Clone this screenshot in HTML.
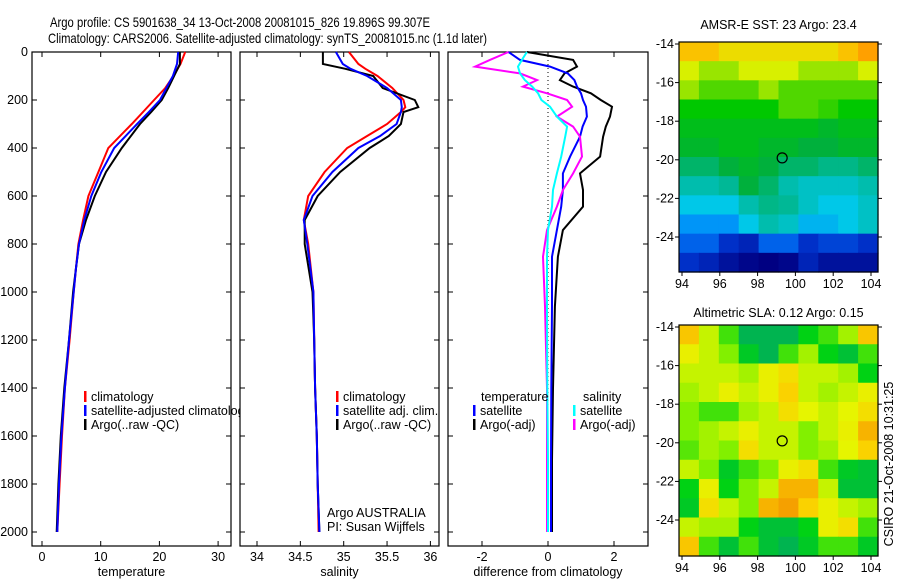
<!DOCTYPE html>
<html><head><meta charset="utf-8"><style>
body{margin:0;background:#fff;}
svg{display:block;font-family:"Liberation Sans",sans-serif;}
text{font-size:12.5px;fill:#000;}
</style></head><body>
<svg id="fig" width="900" height="580" viewBox="0 0 900 580" xmlns="http://www.w3.org/2000/svg">
<rect width="900" height="580" fill="#fff"/>
<text x="50" y="27" textLength="380" lengthAdjust="spacingAndGlyphs" style="font-size:14px">Argo profile: CS 5901638_34 13-Oct-2008 20081015_826 19.896S 99.307E</text>
<text x="48" y="43" textLength="439" lengthAdjust="spacingAndGlyphs" style="font-size:14px">Climatology: CARS2006. Satellite-adjusted climatology: synTS_20081015.nc (1.1d later)</text>
<g id="layer"></g>
</svg>
<script>
// ---------- data ----------
const tDepths=[0,50,100,150,200,250,300,400,500,600,700,800,900,1000,1200,1400,1600,1800,2000];
const tClim=[24.4,23.6,22.4,21,19.1,17.2,15.3,11.3,9.6,7.9,7.0,6.2,5.8,5.4,4.7,3.9,3.4,3.0,2.6];
const tSat=[23.2,23.0,22.3,21.2,20.1,18.2,16.2,12.3,10.1,8.4,7.2,6.3,5.8,5.4,4.6,3.9,3.3,2.9,2.6];
const tArgo=[23.5,23.5,22.5,21.5,20.4,18.6,16.7,13.6,10.9,9.0,7.5,6.3,5.8,5.3,4.6,3.8,3.2,2.8,2.5];
const sDepths=[0,50,70,100,150,200,230,250,300,350,400,500,600,700,800,1000,1200,1400,1600,1800,2000];
const sClim=[35.06,35.17,35.25,35.39,35.56,35.69,35.71,35.66,35.50,35.27,35.04,34.78,34.59,34.54,34.59,34.65,34.66,34.67,34.69,34.70,34.71];
const sSat=[34.91,34.99,35.08,35.27,35.50,35.66,35.67,35.66,35.61,35.42,35.17,34.87,34.64,34.54,34.58,34.65,34.66,34.67,34.69,34.70,34.72];
const sArgo=[34.76,34.76,35.02,35.34,35.45,35.82,35.86,35.69,35.66,35.52,35.30,34.96,34.70,34.55,34.55,34.64,34.66,34.67,34.69,34.70,34.72];
const dDepths=[0,33,61,89,117,144,172,200,228,269,311,353,436,506,575,644,742,853,1061,1400,1700,2000];
const dTempArgo=[-0.64,0.76,0.88,0.5,0.36,0.76,1.3,1.6,1.94,1.88,1.75,1.67,1.58,0.97,1.06,1.06,0.45,0.3,0.21,0.15,0.12,0.12];
const dTempSat=[-1.2,-0.85,0.06,0.6,0.8,0.88,1.0,1.06,1.15,1.18,1.05,0.97,0.67,0.45,0.45,0.4,0.27,0.12,0.12,0.1,0.09,0.09];
const dSalSat=[-0.64,-0.79,-0.91,-0.85,-0.7,-0.48,-0.3,-0.2,0.06,0.27,0.58,0.52,0.4,0.27,0.15,0.12,0,-0.03,-0.03,-0.02,0,0];
const dSalArgo=[-1.2,-1.76,-2.21,-0.85,-0.33,-0.76,-0.03,0.58,0.73,0.27,0.76,0.97,1.03,0.76,0.45,0.27,-0.03,-0.15,-0.09,-0.03,-0.03,-0.03];
const depthTicks=[0,200,400,600,800,1000,1200,1400,1600,1800,2000];
const tTicks=[0,10,20,30];
const sTicks=[34,34.5,35,35.5,36];
const dTicks=[-2,0,2];
const latTicks=[-14,-16,-18,-20,-22,-24];
const lonTicks=[94,96,98,100,102,104];
const sstGrid=[
[27,27,26.5,26.5,26.5,26.5,26.5,26.5,27,27.5],
[26,25.5,25.5,26,26,26,25.5,25.5,25.5,26],
[25.5,25,25,25,25.5,25,25,25,25,25],
[24.5,24.5,24.5,24.5,24.5,25,25,24.8,24.5,24.5],
[24.2,24.2,24.2,24.2,24.2,24.2,24.2,24,24.2,24.2],
[24,24,24.2,24.2,24,24,23.8,23.8,24,24],
[23.5,23.5,23.8,24,23.8,23.5,23.5,23.3,23.3,23.5],
[23,23,23.2,23.8,23.5,23,22.8,22.8,22.8,23],
[22.5,22.5,22.5,23,23.3,23.2,22.8,22.5,22.5,22.8],
[22,22,22,22.5,23,22.8,22.3,22.3,22.5,22.8],
[21.5,21.5,21,20.8,21.5,21.5,21,21.2,21.2,21],
[21,20.8,20.5,20.3,20.2,20.3,20.8,20.5,20.5,20.5]];
const slaGrid=[
[0.22,0.12,0.05,-0.05,-0.05,-0.05,0.02,0.05,0.1,0.22],
[0.15,0.12,0.08,0.0,-0.05,0.05,0.1,0.02,-0.02,0.05],
[0.12,0.12,0.12,0.1,0.15,0.18,0.12,0.12,0.1,0.02],
[0.1,0.12,0.15,0.12,0.15,0.2,0.12,0.1,0.12,0.15],
[0.08,0.05,0.05,0.1,0.12,0.18,0.14,0.12,0.14,0.18],
[0.08,0.1,0.12,0.15,0.12,0.12,0.08,0.12,0.15,0.25],
[0.06,0.1,0.08,0.18,0.12,0.12,0.08,0.1,0.14,0.2],
[0.12,0.08,0.0,0.05,0.08,0.15,0.18,0.05,0.0,-0.02],
[0.02,0.15,0.02,0.08,0.12,0.25,0.25,0.12,-0.02,-0.02],
[0.0,0.18,0.12,0.08,0.25,0.28,0.2,0.15,0.12,0.1],
[0.12,0.1,0.1,0.02,-0.02,-0.02,0.02,0.15,0.18,0.05],
[0.22,0.05,-0.02,0.05,-0.02,-0.05,0.0,0.05,0.05,0.0]];
const argoLon=99.3, argoLat=-19.9;

// ---------- helpers ----------
const NS='http://www.w3.org/2000/svg';
const layer=document.getElementById('layer');
function mk(tag,attrs,parent){const e=document.createElementNS(NS,tag);for(const k in attrs)e.setAttribute(k,attrs[k]);(parent||layer).appendChild(e);return e;}
const yD=d=>52+0.24*d;
const xT=v=>42+5.87*v;
const xS=v=>257+86.7*(v-34);
const xDf=v=>548+33*v;
const PB=546;

function panel(name,x0,x1,xf,ticks,title){
  const g=mk('g',{});
  
  
  const r=mk('rect',{x:x0,y:52,width:x1-x0,height:PB-52,fill:'#fff',stroke:'#000','stroke-width':1.2},g);
  
  
  ticks.forEach(t=>{const x=xf(t);
    mk('line',{x1:x,x2:x,y1:PB,y2:PB-5,stroke:'#000'},g);
    mk('line',{x1:x,x2:x,y1:52,y2:57,stroke:'#000'},g);
    const tx=mk('text',{x:x,y:561,'text-anchor':'middle'},g);tx.textContent=t;
    
    
  });
  depthTicks.forEach(d=>{const y=yD(d);
    mk('line',{x1:x0,x2:x0+5,y1:y,y2:y,stroke:'#000'},g);
    mk('line',{x1:x1,x2:x1-5,y1:y,y2:y,stroke:'#000'},g);});
  const tt=mk('text',{x:(x0+x1)/2,y:576,'text-anchor':'middle'},g);tt.textContent=title;
  
  
  return g;
}
function line(g,depths,vals,xf,color,name,w){
  const pts=vals.map((v,i)=>xf(v).toFixed(1)+','+yD(depths[i]).toFixed(1)).join(' ');
  const p=mk('polyline',{points:pts,fill:'none',stroke:color,'stroke-width':w||2},g);
  
  
}
function legend(g,x,y,color,label,name){
  if(color){const m=mk('rect',{x:x,y:y-10,width:2.5,height:11,fill:color},g);
    
    }
  const t=mk('text',{x:x+7,y:y},g);t.textContent=label;
  
  
}

// ---------- panel 1: temperature ----------
const p1=panel('temperature-panel',32,231,xT,tTicks,'temperature');
depthTicks.forEach(d=>{const t=mk('text',{x:28,y:yD(d)+4,'text-anchor':'end'});t.textContent=d;
  
  });
line(p1,tDepths,tClim,xT,'#f00','temp-climatology-line');
line(p1,tDepths,tArgo,xT,'#000','temp-argo-line');
line(p1,tDepths,tSat,xT,'#00f','temp-satellite-line');
legend(p1,84,401,'#f00','climatology','legend-climatology');
legend(p1,84,415,'#00f','satellite-adjusted climatology','legend-satellite-adjusted');
legend(p1,84,429,'#000','Argo(..raw -QC)','legend-argo');

// ---------- panel 2: salinity ----------
const p2=panel('salinity-panel',240,439,xS,sTicks,'salinity');
line(p2,sDepths,sClim,xS,'#f00','sal-climatology-line');
line(p2,sDepths,sArgo,xS,'#000','sal-argo-line');
line(p2,sDepths,sSat,xS,'#00f','sal-satellite-line');
legend(p2,336,401,'#f00','climatology','legend2-climatology');
legend(p2,336,415,'#00f','satellite adj. clim.','legend2-satellite');
legend(p2,336,429,'#000','Argo(..raw -QC)','legend2-argo');
legend(p2,320,517,null,'Argo AUSTRALIA','float-owner-label');
legend(p2,320,531,null,'PI: Susan Wijffels','pi-label');

// ---------- panel 3: differences ----------
const p3=panel('difference-panel',448,648,xDf,dTicks,'difference from climatology');
mk('line',{x1:xDf(0),x2:xDf(0),y1:yD(0),y2:yD(2000),stroke:'#000','stroke-dasharray':'1,3'},p3);
line(p3,dDepths,dTempArgo,xDf,'#000','diff-temp-argo-line');
line(p3,dDepths,dTempSat,xDf,'#00f','diff-temp-satellite-line');
line(p3,dDepths,dSalArgo,xDf,'#f0f','diff-sal-argo-line');
line(p3,dDepths,dSalSat,xDf,'#0ff','diff-sal-satellite-line');
legend(p3,474,401,null,'temperature','legend3-temperature-header');
legend(p3,473,415,'#00f','satellite','legend3-temp-satellite');
legend(p3,473,429,'#000','Argo(-adj)','legend3-temp-argo');
legend(p3,576,401,null,'salinity','legend3-salinity-header');
legend(p3,573,415,'#0ff','satellite','legend3-sal-satellite');
legend(p3,573,429,'#f0f','Argo(-adj)','legend3-sal-argo');

// ---------- maps ----------
function lerpColor(stops,v){
  if(v<=stops[0][0])return stops[0][1];
  for(let i=1;i<stops.length;i++){if(v<=stops[i][0]){const a=stops[i-1],b=stops[i],f=(v-a[0])/(b[0]-a[0]);
    const c=a[1].map((x,k)=>Math.round(x+(b[1][k]-x)*f));return c;}}
  return stops[stops.length-1][1];
}
const sstStops=[[20.2,[0,0,130]],[21,[0,48,200]],[21.8,[0,128,255]],[22.5,[0,200,232]],[23.2,[0,184,150]],[23.8,[0,176,60]],[24.5,[0,200,0]],[25.3,[128,224,0]],[26,[216,240,0]],[26.8,[248,208,0]],[27.5,[255,160,0]]];
const slaStops=[[-0.05,[0,180,80]],[0.02,[0,210,20]],[0.08,[130,240,0]],[0.14,[230,245,0]],[0.2,[250,210,0]],[0.28,[245,160,0]]];
function map(name,y0,y1,grid,stops,title,titleY,argoName){
  const x0=679,x1=878;
  const g=mk('g',{});
  
  
  const rows=grid.length,cols=grid[0].length,cw=(x1-x0)/cols,ch=(y1-y0)/rows;
  grid.forEach((row,r)=>row.forEach((v,c)=>{const col=lerpColor(stops,v);
    const cell=mk('rect',{x:(x0+c*cw).toFixed(2),y:(y0+r*ch).toFixed(2),width:(cw+0.6).toFixed(2),height:(ch+0.6).toFixed(2),fill:'rgb('+col.join(',')+')'},g);
    
    }));
  mk('rect',{x:x0,y:y0,width:x1-x0,height:y1-y0,fill:'none',stroke:'#000','stroke-width':1.2},g);
  const lonX=l=>682+18.9*(l-94);
  const latY=a=>(y0+2)+19.3*(-14-a);
  lonTicks.forEach(l=>{const x=lonX(l);mk('line',{x1:x,x2:x,y1:y1,y2:y1+4,stroke:'#000'},g);
    const t=mk('text',{x:x,y:y1+16,'text-anchor':'middle'},g);t.textContent=l;
    
    });
  latTicks.forEach(a=>{const y=latY(a);mk('line',{x1:x0-4,x2:x0,y1:y,y2:y,stroke:'#000'},g);
    mk('line',{x1:x1,x2:x1+4,y1:y,y2:y,stroke:'#000'},g);
    const t=mk('text',{x:x0-5,y:y+4,'text-anchor':'end'},g);t.textContent=a;
    
    });
  const c=mk('circle',{cx:lonX(argoLon),cy:latY(argoLat),r:5,fill:'none',stroke:'#000','stroke-width':1.2},g);
  
  
  const t=mk('text',{x:(x0+x1)/2,y:titleY,'text-anchor':'middle'},g);t.textContent=title;
  
  
}
map('sst-map',42,272,sstGrid,sstStops,'AMSR-E SST: 23 Argo: 23.4',29,'sst-argo-location');
map('sla-map',325,556,slaGrid,slaStops,'Altimetric SLA: 0.12 Argo: 0.15',317,'sla-argo-location');
const stamp=mk('text',{x:0,y:0,'text-anchor':'middle',transform:'translate(893,464) rotate(-90)'});
stamp.textContent='CSIRO 21-Oct-2008 10:31:25';


</script>
</body></html>
